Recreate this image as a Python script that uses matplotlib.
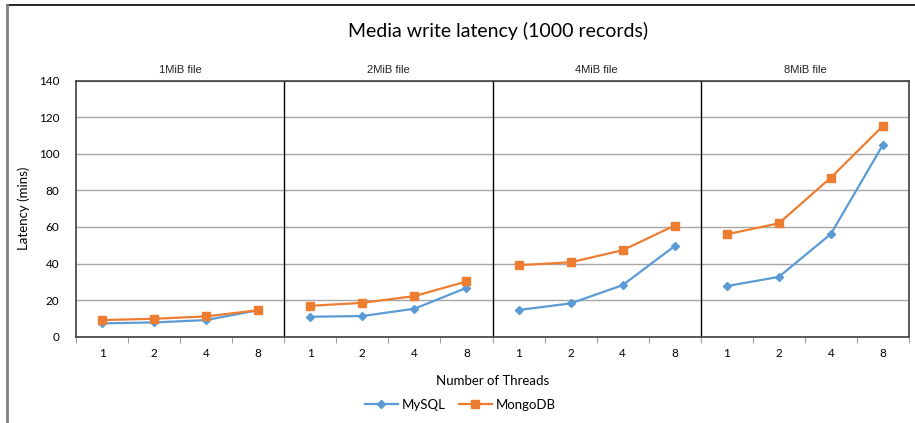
import matplotlib
matplotlib.use("Agg")
import matplotlib.pyplot as plt
from matplotlib.lines import Line2D

# data
panels = ["1MiB file", "2MiB file", "4MiB file", "8MiB file"]
threads = ["1", "2", "4", "8"]
mysql = [
    [7.3, 7.8, 9.1, 14.5],
    [10.9, 11.3, 15.3, 26.7],
    [14.6, 18.2, 28.2, 49.6],
    [27.7, 32.7, 56.2, 105.0],
]
mongodb = [
    [9.1, 9.8, 11.1, 14.5],
    [16.9, 18.5, 22.2, 30.2],
    [39.1, 40.7, 47.3, 60.8],
    [56.0, 62.0, 87.0, 115.3],
]
yticks = [0, 20, 40, 60, 80, 100, 120, 140]

c_mysql = "#5B9BD5"
c_mongo = "#ED7D31"
calibri = ["Lato", "DejaVu Sans"]
arial = ["Liberation Sans", "DejaVu Sans"]

fig = plt.figure(figsize=(9.15, 4.23), dpi=100)
ax = fig.add_axes([76 / 915, 1 - 336.7 / 423, (909 - 76) / 915, (336.7 - 80.7) / 423])

n = len(threads)
for p in range(len(panels)):
    xs = [p * n + i + 0.5 for i in range(n)]
    ax.plot(xs, mysql[p], color=c_mysql, lw=1.6, marker="D", ms=4.5, zorder=3)
    ax.plot(xs, mongodb[p], color=c_mongo, lw=1.6, marker="s", ms=6, zorder=4)
    ax.text(p * n + n / 2, 143, panels[p], ha="center", va="bottom",
            fontsize=8, family=arial, color="#222222")
    if p > 0:
        ax.axvline(p * n, color="black", lw=1, zorder=2)

ax.set_xlim(0, n * len(panels))
ax.set_ylim(0, 140)
ax.set_yticks(yticks)
ax.set_yticklabels([str(v) for v in yticks], family=calibri, fontsize=8.5)
ax.tick_params(axis="y", length=0, pad=12)

ax.set_xticks(range(0, n * len(panels) + 1))
ax.set_xticklabels([])
ax.set_xticks([i + 0.5 for i in range(n * len(panels))], minor=True)
ax.set_xticklabels(threads * len(panels), minor=True, family=calibri, fontsize=8.5)
ax.tick_params(axis="x", which="major", length=4, color="#a0a0a0")
ax.tick_params(axis="x", which="minor", length=0, pad=8)

ax.grid(axis="y", color="#a6a6a6", lw=1)
ax.set_axisbelow(True)
for s in ax.spines.values():
    s.set_color("#404040")
    s.set_linewidth(1.2)

ax.set_ylabel("Latency (mins)", family=calibri, fontsize=9.5, labelpad=6)
ax.set_xlabel("Number of Threads", family=calibri, fontsize=9.5, labelpad=12)

fig.text(498 / 915, 1 - 31 / 423, "Media write latency (1000 records)",
         ha="center", va="center", family=calibri, fontsize=14)

handles = [
    Line2D([], [], color=c_mysql, lw=1.6, marker="D", ms=4.5),
    Line2D([], [], color=c_mongo, lw=1.6, marker="s", ms=6),
]
fig.legend(handles, ["MySQL", "MongoDB"], loc="center", bbox_to_anchor=(460 / 915, 1 - 405 / 423),
           ncol=2, frameon=False, prop={"family": calibri, "size": 9.5},
           handlelength=2.5, columnspacing=1.0, handletextpad=0.3)

# chart area border (top and left edges visible in the crop)
fig.add_artist(Line2D([7 / 915, 1], [1 - 5 / 423, 1 - 5 / 423], color="black", lw=1.2,
                      transform=fig.transFigure))
fig.add_artist(Line2D([7 / 915, 7 / 915], [0, 1 - 5 / 423], color="#808080", lw=2,
                      transform=fig.transFigure))

fig.savefig("out.png", dpi=100)
